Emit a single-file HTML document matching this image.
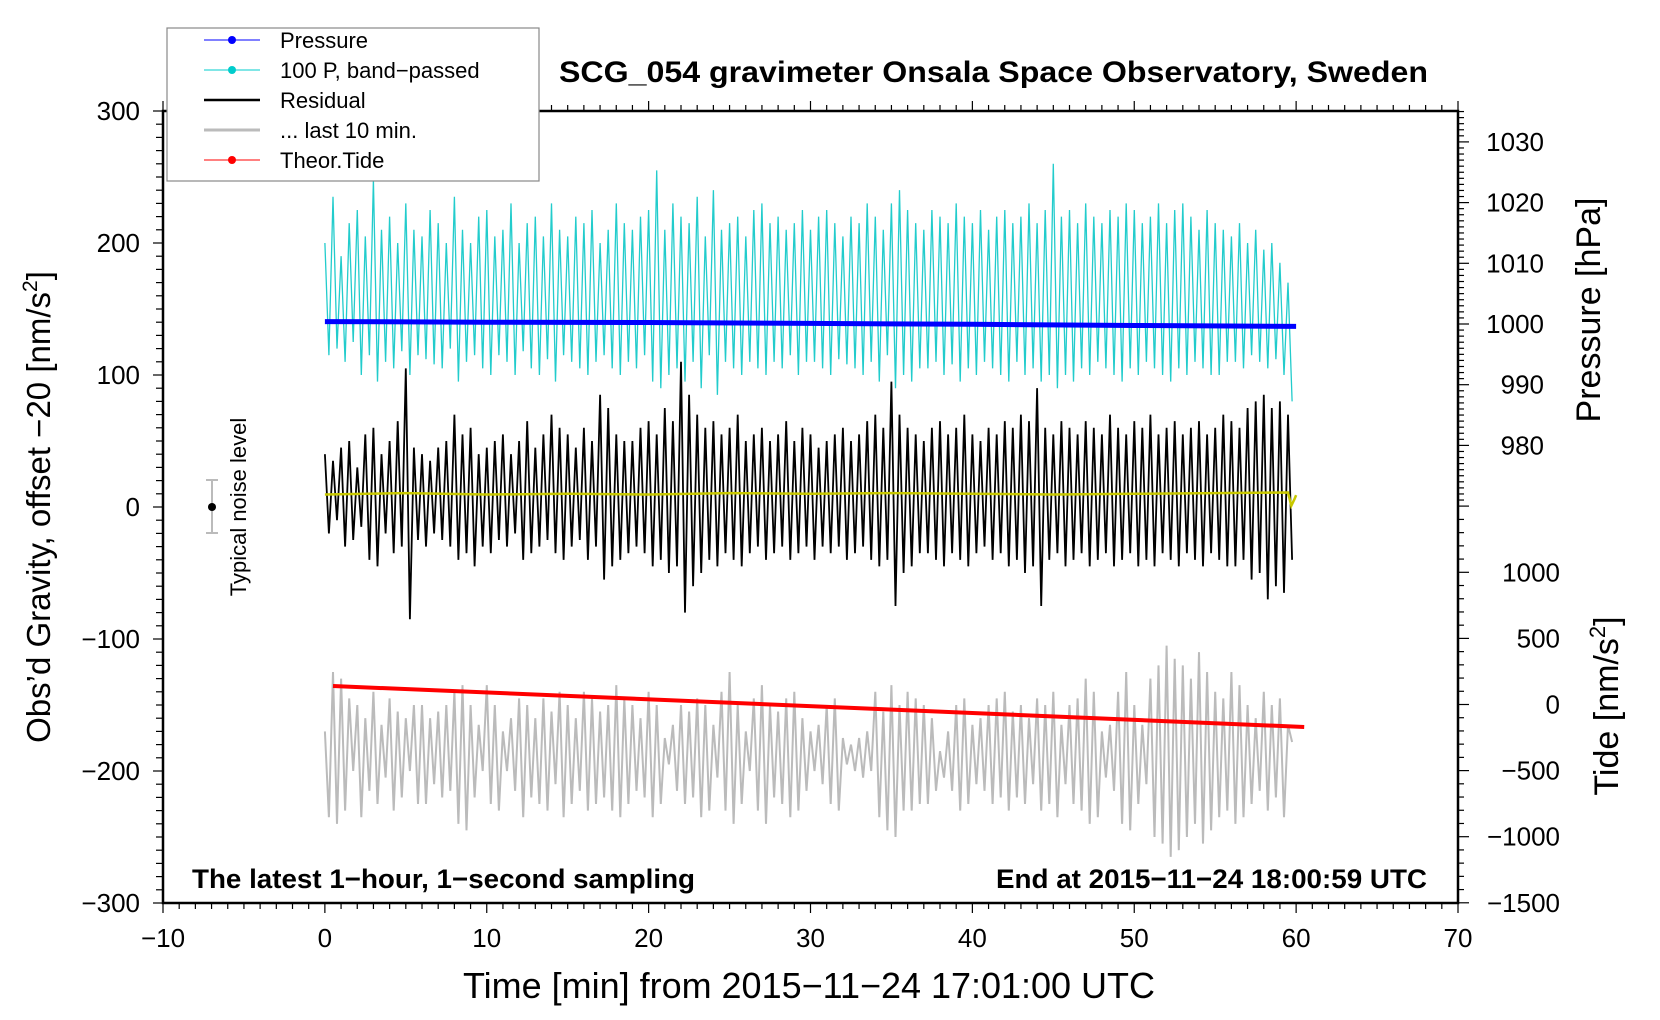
<!DOCTYPE html>
<html><head><meta charset="utf-8"><title>SCG_054 gravimeter</title>
<style>
html,body{margin:0;padding:0;background:#fff;}
svg{display:block;font-family:"Liberation Sans",Arial,sans-serif;}
</style></head>
<body>
<svg id="chart" width="1660" height="1020" viewBox="0 0 1660 1020" xmlns="http://www.w3.org/2000/svg">
<rect x="0" y="0" width="1660" height="1020" fill="#fff"/>
<g id="series"></g>
<g id="axes"></g>
<text x="559" y="82" textLength="869" lengthAdjust="spacingAndGlyphs" font-size="30" font-weight="bold">SCG_054 gravimeter Onsala Space Observatory, Sweden</text>
<text x="192" y="888" textLength="503" lengthAdjust="spacingAndGlyphs" font-size="27" font-weight="bold">The latest 1−hour, 1−second sampling</text>
<text x="996" y="888" textLength="431" lengthAdjust="spacingAndGlyphs" font-size="27" font-weight="bold">End at 2015−11−24 18:00:59 UTC</text>
<text x="463" y="998" textLength="692" lengthAdjust="spacingAndGlyphs" font-size="36">Time [min] from 2015−11−24 17:01:00 UTC</text>
<text transform="translate(50,507) rotate(-90)" text-anchor="middle" font-size="33">Obs’d Gravity, offset −20 [nm/s<tspan font-size="21" dy="-13">2</tspan><tspan dy="13">]</tspan></text>
<text transform="translate(1600,310) rotate(-90)" text-anchor="middle" font-size="34">Pressure [hPa]</text>
<text transform="translate(1618,706) rotate(-90)" text-anchor="middle" font-size="34">Tide [nm/s<tspan font-size="22" dy="-13">2</tspan><tspan dy="13">]</tspan></text>
<g>
<line x1="212" y1="480" x2="212" y2="533" stroke="#bbb" stroke-width="2"/>
<line x1="206" y1="480" x2="218" y2="480" stroke="#bbb" stroke-width="2"/>
<line x1="206" y1="533" x2="218" y2="533" stroke="#bbb" stroke-width="2"/>
<circle cx="212" cy="507" r="4" fill="#000"/>
<text transform="translate(246,507) rotate(-90)" text-anchor="middle" font-size="22">Typical noise level</text>
</g>
<g>
<rect x="167" y="28" width="372" height="153" fill="#fff" stroke="#888" stroke-width="1.2"/>
<g><line x1="204" y1="40" x2="260" y2="40" stroke="#00f" stroke-width="1"/><circle cx="232" cy="40" r="4" fill="#00f"/><text x="280" y="48" font-size="22">Pressure</text></g>
<g><line x1="204" y1="70" x2="260" y2="70" stroke="#0cc" stroke-width="1"/><circle cx="232" cy="70" r="4" fill="#0cc"/><text x="280" y="78" font-size="22">100 P, band−passed</text></g>
<g><line x1="204" y1="100" x2="260" y2="100" stroke="#000" stroke-width="2.5"/><text x="280" y="108" font-size="22">Residual</text></g>
<g><line x1="204" y1="130" x2="260" y2="130" stroke="#bbb" stroke-width="3"/><text x="280" y="138" font-size="22">... last 10 min.</text></g>
<g><line x1="204" y1="160" x2="260" y2="160" stroke="#f00" stroke-width="1"/><circle cx="232" cy="160" r="4" fill="#f00"/><text x="280" y="168" font-size="22">Theor.Tide</text></g>
</g>
</svg>
<script>
// ---- data ----
const xTicks = [-10,0,10,20,30,40,50,60,70];
const yTicksLeft = [300,200,100,0,-100,-200,-300];
const pressureTicks = [1030,1020,1010,1000,990,980];
const tideTicks = [1000,500,0,-500,-1000,-1500];
const pressureT = [0,10,20,30,40,50,60];
const pressureV = [1000.4,1000.3,1000.25,1000.1,999.95,999.75,999.6];
const tideT = [0.5,60.5];
const tideV = [140,-170];
const yellowT = [0,5,10,15,20,25,30,35,40,45,50,55,59.5,59.7,59.9,60];
const yellowV = [9.5,10.5,9.5,10,9.5,10.5,10,10.5,10,9.5,10,10.5,11,1,6,9];
const residualV = [
40,-20,35,-10, 45,-30,50,-25, 30,-15,55,-40, 60,-45,40,-20, 50,-35,65,-30,
105,-85,45,-25, 40,-30,35,-20, 45,-25,50,-30, 70,-40,55,-35, 60,-45,40,-30,
45,-35,50,-25, 55,-30,40,-20, 50,-40,65,-35, 45,-30,55,-25, 70,-35,60,-40,
55,-30,45,-25, 60,-40,50,-30, 85,-55,75,-45, 55,-40,50,-35, 50,-30,60,-35,
65,-45,55,-40, 75,-50,65,-45, 110,-80,85,-60, 70,-50,60,-40, 65,-45,55,-35,
60,-40,70,-45, 50,-35,55,-30, 60,-40,50,-35, 55,-30,65,-40, 50,-35,60,-30,
55,-40,45,-30, 50,-35,55,-30, 60,-40,50,-35, 55,-30,65,-40, 70,-45,60,-40,
95,-75,70,-50, 60,-45,55,-35, 50,-35,60,-40, 65,-45,55,-35, 60,-40,70,-45,
55,-35,50,-30, 60,-40,55,-35, 65,-45,60,-40, 70,-50,65,-45, 90,-75,60,-40,
55,-35,65,-45, 60,-40,55,-35, 65,-45,60,-40, 55,-35,70,-45, 60,-40,55,-35,
65,-45,60,-40, 70,-45,55,-35, 60,-40,65,-45, 55,-35,60,-40, 65,-45,55,-35,
60,-40,70,-45, 65,-45,60,-40, 75,-55,80,-50, 85,-70,75,-60, 80,-65,70,-40];
const cyanV = [
200,115,235,120, 190,110,215,125, 225,100,205,115, 248,95,210,110, 220,105,200,118,
230,100,210,115, 205,112,225,108, 215,105,200,120, 235,95,210,110, 200,115,220,105,
225,100,205,115, 210,110,230,100, 200,118,215,105, 220,100,205,112, 230,95,210,115,
205,110,220,105, 215,100,225,110, 200,115,210,105, 230,100,215,110, 210,105,220,115,
225,95,255,90, 210,100,230,105, 220,95,215,110, 235,90,205,115, 240,85,210,110,
215,105,220,100, 205,110,225,105, 230,100,215,110, 220,105,210,115, 215,100,225,110,
210,110,220,105, 225,100,215,112, 205,108,220,105, 215,100,230,110, 220,95,210,115,
230,90,240,100, 225,95,215,105, 210,105,225,110, 220,100,215,108, 230,95,220,105,
215,100,225,110, 210,105,220,100, 225,95,215,110, 220,100,230,105, 215,95,225,100,
260,90,220,100, 225,95,215,105, 230,100,220,110, 215,105,225,100, 220,95,230,105,
225,100,215,110, 220,105,230,100, 215,95,225,105, 230,100,220,110, 210,105,225,100,
215,100,210,110, 205,110,215,105, 200,115,210,110, 195,105,200,112, 185,100,170,80];
const grayV = [
-170,-235,-125,-240, -130,-230,-145,-200, -150,-235,-160,-215, -140,-225,-165,-205, -145,-230,-155,-220,
-160,-200,-150,-225, -150,-225,-160,-210, -155,-220,-150,-215, -140,-240,-135,-245, -150,-220,-165,-200,
-135,-225,-150,-230, -170,-200,-160,-215, -145,-235,-150,-220, -160,-225,-145,-230, -155,-210,-140,-235,
-150,-225,-160,-215, -140,-230,-145,-225, -155,-220,-150,-230, -135,-235,-145,-225, -150,-215,-160,-220,
-140,-235,-150,-225, -175,-195,-165,-215, -150,-225,-155,-220, -145,-235,-150,-230, -165,-205,-140,-230,
-125,-240,-150,-225, -170,-200,-145,-230, -135,-240,-150,-220, -155,-225,-145,-235, -140,-230,-160,-215,
-170,-200,-165,-210, -150,-225,-145,-230, -175,-195,-180,-200, -175,-205,-170,-200, -140,-235,-155,-245,
-135,-250,-150,-230, -140,-230,-145,-225, -150,-225,-160,-215, -185,-205,-170,-215, -150,-230,-145,-225,
-165,-210,-160,-215, -150,-225,-145,-220, -140,-230,-155,-220, -150,-225,-160,-210, -145,-230,-150,-225,
-140,-235,-165,-210, -150,-225,-145,-230, -130,-240,-140,-235, -170,-205,-165,-215, -140,-240,-125,-245,
-150,-225,-165,-210, -130,-250,-120,-255, -105,-265,-115,-260, -120,-250,-130,-240, -110,-255,-125,-245,
-140,-235,-145,-230, -125,-240,-135,-235, -150,-225,-160,-215, -140,-230,-150,-220, -145,-235,-165,-178];
const sampleStep = 0.25; // minutes per sample

// ---- scales ----
const X0=163, X1=1458, Y0=111, Y1=903;
function xs(t){ return X0 + (t+10)/80*(X1-X0); }
function ysL(v){ return 507 - v*1.32; }
function ysP(p){ return 324 - (p-1000)*6.07; }
function ysT(v){ return 704.5 - v*66.1/500; }

const NS="http://www.w3.org/2000/svg";
const series=document.getElementById('series');
const axes=document.getElementById('axes');
function mk(tag, attrs, parent){ const e=document.createElementNS(NS,tag); for(const k in attrs) e.setAttribute(k,attrs[k]); parent.appendChild(e); return e; }
function pathFrom(ts, vs, yf){ return ts.map((t,i)=>(i?'L':'M')+xs(t).toFixed(1)+','+yf(vs[i]).toFixed(1)).join(''); }
function idxT(arr){ return arr.map((_,i)=>i*sampleStep); }

let p=mk('path',{d:pathFrom(idxT(cyanV),cyanV,ysL),fill:'none',stroke:'#22cccc','stroke-width':1.3},series);


p=mk('path',{d:pathFrom(pressureT,pressureV,ysP),fill:'none',stroke:'#0000ff','stroke-width':5},series);


p=mk('path',{d:pathFrom(idxT(residualV),residualV,ysL),fill:'none',stroke:'#000','stroke-width':1.8},series);


p=mk('path',{d:pathFrom(yellowT,yellowV,ysL),fill:'none',stroke:'#c8c800','stroke-width':2.5},series);


p=mk('path',{d:pathFrom(idxT(grayV),grayV,ysL),fill:'none',stroke:'#bbbbbb','stroke-width':2},series);


p=mk('path',{d:pathFrom(tideT,tideV,ysT),fill:'none',stroke:'#ff0000','stroke-width':4},series);



// ---- axes ----
let fr=mk('rect',{x:X0,y:Y0,width:X1-X0,height:Y1-Y0,fill:'none',stroke:'#000','stroke-width':2.5},axes);


for(let t=-10;t<=70;t++){
  const maj=(t%10===0);
  const L=maj?10:6;
  let a=mk('line',{x1:xs(t),y1:Y1,x2:xs(t),y2:Y1+L,stroke:'#000','stroke-width':1.2},axes);
  
  
  let b=mk('line',{x1:xs(t),y1:Y0,x2:xs(t),y2:Y0-L,stroke:'#000','stroke-width':1.2},axes);
  
  
}
xTicks.forEach(t=>{
  let tx=mk('text',{x:xs(t),y:947,'text-anchor':'middle','font-size':26},axes);
  tx.textContent=String(t).replace('-','−');
  
  
});
for(let v=-300;v<=300;v+=10){
  const maj=(v%100===0);
  let a=mk('line',{x1:X0,y1:ysL(v),x2:X0-(maj?10:7),y2:ysL(v),stroke:'#000','stroke-width':1.2},axes);
  
  
}
yTicksLeft.forEach(v=>{
  let tx=mk('text',{x:140,y:ysL(v)+9,'text-anchor':'end','font-size':26},axes);
  tx.textContent=String(v).replace('-','−');
  
  
});
for(let pv=970;pv<=1035;pv++){
  const maj=(pv%10===0);
  let a=mk('line',{x1:X1,y1:ysP(pv),x2:X1+(maj?11:6),y2:ysP(pv),stroke:'#000','stroke-width':1.2},axes);
  
  
}
pressureTicks.forEach(v=>{
  let tx=mk('text',{x:1544,y:ysP(v)+9,'text-anchor':'end','font-size':26},axes);
  tx.textContent=String(v);
  
  
});
for(let v=-1500;v<=1400;v+=100){
  const maj=(v%500===0);
  let a=mk('line',{x1:X1,y1:ysT(v),x2:X1+(maj?11:6),y2:ysT(v),stroke:'#000','stroke-width':1.2},axes);
  
  
}
tideTicks.forEach(v=>{
  let tx=mk('text',{x:1560,y:ysT(v)+9,'text-anchor':'end','font-size':26},axes);
  tx.textContent=String(v).replace('-','−');
  
  
});
</script>
</body></html>
